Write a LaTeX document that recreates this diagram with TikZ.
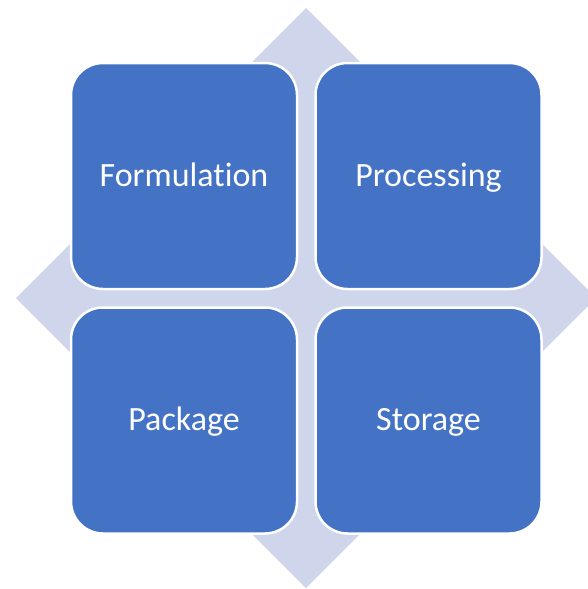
\documentclass[tikz,border=0pt]{standalone}
\usepackage{fontspec}
\setmainfont{Carlito}[Ligatures=NoCommon]
\usetikzlibrary{positioning}
\definecolor{tileblue}{HTML}{4472C4}
\definecolor{diamondgray}{HTML}{CFD5EA}
\begin{document}
\begin{tikzpicture}[x=1pt,y=-1pt,line join=round,
	tile/.style={draw=white,line width=2.5pt,fill=tileblue,text=white,rounded corners=32pt,
		minimum size=226pt,inner sep=0pt,text height=26pt,text depth=6pt,
		font=\fontsize{34}{40}\selectfont}]
			\clip (0,0) rectangle (588,589);
			\fill[diamondgray] (306,8)--(596,298)--(306,588)--(16,298)--cycle;
			\node[tile] (form) at (184,176) {Formulation};
			\node[tile,right=16pt of form] (proc) {Processing};
			\node[tile,below=16pt of form] (pack) {Package};
			\node[tile,below=16pt of proc] (stor) {Storage};
		\end{tikzpicture}
\end{document}
